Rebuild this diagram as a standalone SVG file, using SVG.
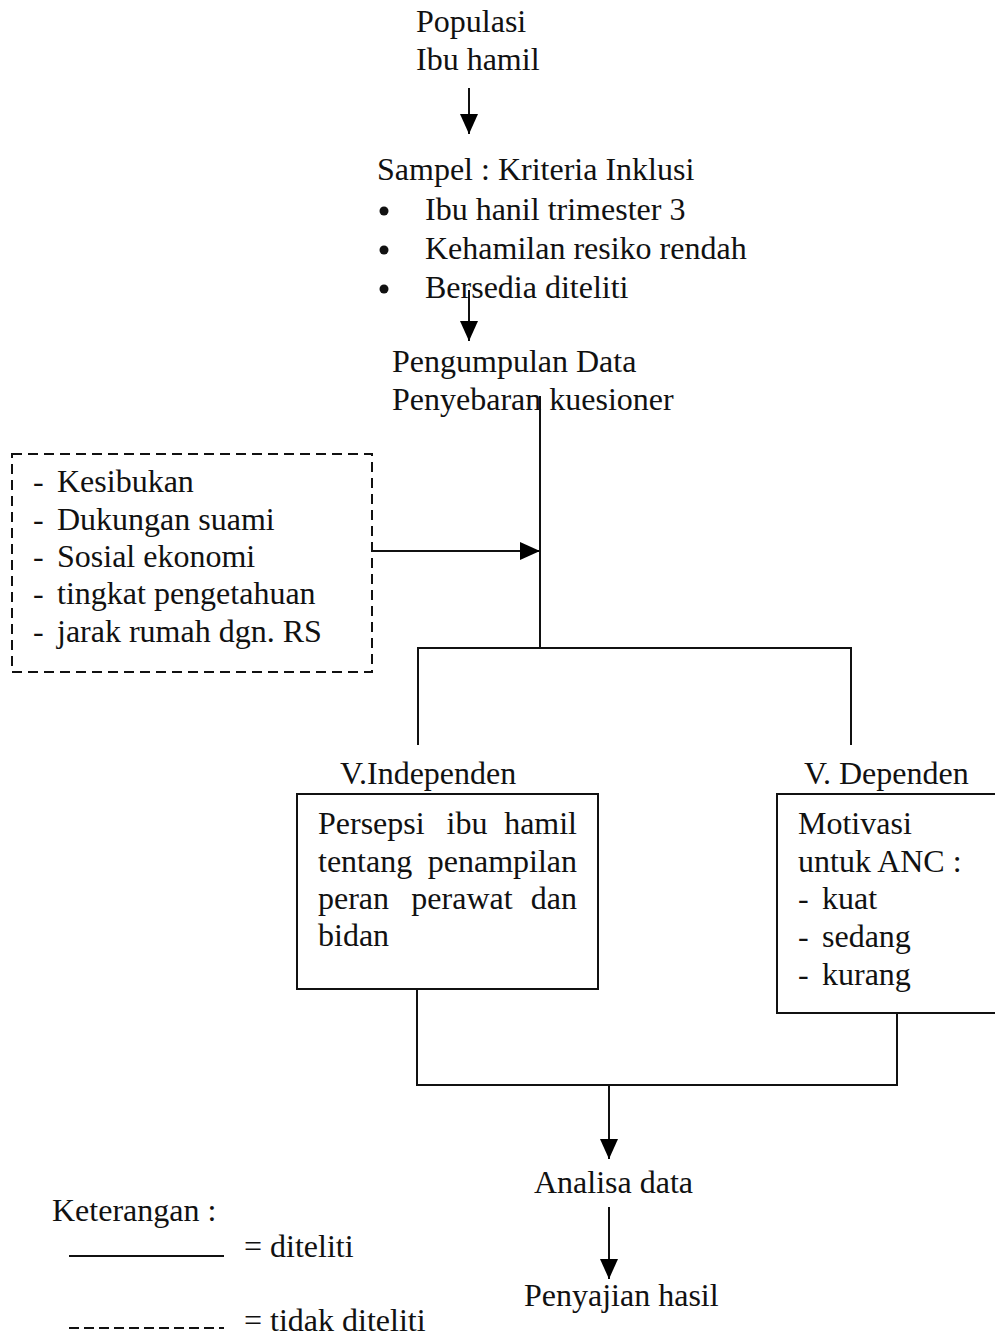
<svg xmlns="http://www.w3.org/2000/svg" width="995" height="1337" viewBox="0 0 995 1337">
<defs>
<marker id="ah" viewBox="0 0 20 18" refX="20" refY="9" markerWidth="20" markerHeight="18" markerUnits="userSpaceOnUse" orient="auto">
<path d="M0,0 L20,9 L0,18 Z" fill="#000"/>
</marker>
<style>
text{font-family:"Liberation Serif","Times New Roman",serif;font-size:32px;fill:#111}
.ln{stroke:#111;stroke-width:2;fill:none}
.dash{stroke:#111;stroke-width:2;fill:none;stroke-dasharray:10 6}
.arr{stroke:#111;stroke-width:2;fill:none;marker-end:url(#ah)}
</style>
</defs>
<rect width="995" height="1337" fill="#fff"/>

<g id="populasi">
<text x="416" y="32">Populasi</text>
<text x="416" y="70">Ibu hamil</text>
</g>

<g id="sampel">
<text x="377" y="180">Sampel : Kriteria Inklusi</text>
<circle cx="384" cy="211" r="4.5" fill="#111"/>
<circle cx="384" cy="250" r="4.5" fill="#111"/>
<circle cx="384" cy="289" r="4.5" fill="#111"/>
<text x="425" y="220">Ibu hanil trimester 3</text>
<text x="425" y="259">Kehamilan resiko rendah</text>
<text x="425" y="298">Bersedia diteliti</text>
</g>

<g id="pengumpulan">
<text x="392" y="372">Pengumpulan Data</text>
<text x="392" y="410">Penyebaran kuesioner</text>
</g>

<g id="faktor">
<rect class="dash" x="12" y="454" width="360" height="218"/>
<text x="33" y="492">-</text><text x="57" y="492">Kesibukan</text>
<text x="33" y="530">-</text><text x="57" y="530">Dukungan suami</text>
<text x="33" y="567">-</text><text x="57" y="567">Sosial ekonomi</text>
<text x="33" y="604">-</text><text x="57" y="604">tingkat pengetahuan</text>
<text x="33" y="642">-</text><text x="57" y="642">jarak rumah dgn. RS</text>
</g>

<g id="independen">
<text x="340" y="784">V.Independen</text>
<rect class="ln" x="297" y="794" width="301" height="195"/>
<text x="318" y="834">Persepsi</text><text x="467" y="834" text-anchor="middle">ibu</text><text x="577" y="834" text-anchor="end">hamil</text>
<text x="318" y="872">tentang</text><text x="577" y="872" text-anchor="end">penampilan</text>
<text x="318" y="909">peran</text><text x="462" y="909" text-anchor="middle">perawat</text><text x="577" y="909" text-anchor="end">dan</text>
<text x="318" y="946">bidan</text>
</g>

<g id="dependen">
<text x="804" y="784">V. Dependen</text>
<rect class="ln" x="777" y="794" width="230" height="219"/>
<text x="798" y="834">Motivasi</text>
<text x="798" y="872">untuk ANC :</text>
<text x="798" y="909">-</text><text x="822" y="909">kuat</text>
<text x="798" y="947">-</text><text x="822" y="947">sedang</text>
<text x="798" y="985">-</text><text x="822" y="985">kurang</text>
</g>

<g id="analisa">
<text x="534" y="1193">Analisa data</text>
</g>

<g id="penyajian">
<text x="524" y="1306">Penyajian hasil</text>
</g>

<g id="keterangan">
<text x="52" y="1221">Keterangan :</text>
<line class="ln" x1="69" y1="1256" x2="224" y2="1256"/>
<text x="244" y="1257">= diteliti</text>
<line class="ln" x1="69" y1="1328" x2="224" y2="1328" stroke-dasharray="10 5"/>
<text x="244" y="1331">= tidak diteliti</text>
</g>

<g id="connectors">
<line class="arr" x1="469" y1="88" x2="469" y2="134"/>
<line class="arr" x1="469" y1="290" x2="469" y2="341"/>
<polyline class="ln" points="540,396 540,648"/>
<polyline class="ln" points="418,745 418,648 851,648 851,745"/>
<line class="arr" x1="372" y1="551" x2="540" y2="551"/>
<polyline class="ln" points="417,989 417,1085 897,1085 897,1013"/>
<line class="arr" x1="609" y1="1085" x2="609" y2="1159"/>
<line class="arr" x1="609" y1="1207" x2="609" y2="1279"/>
</g>
</svg>
